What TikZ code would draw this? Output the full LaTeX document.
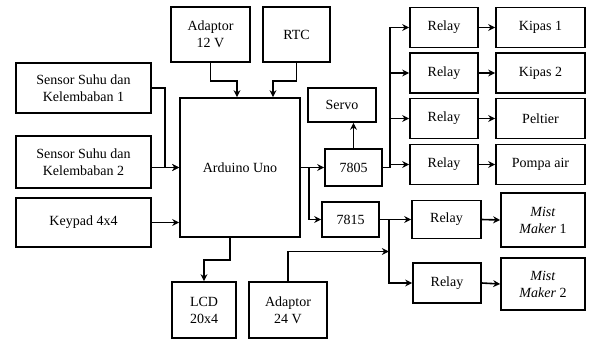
\documentclass[tikz,border=0pt]{standalone}
\usepackage{fontspec}
\setmainfont{Liberation Serif}
\usetikzlibrary{arrows.meta}
\begin{document}
\begin{tikzpicture}[x=1pt, y=-1pt,
    blok/.style={draw, line width=1.7pt, align=center, inner sep=1pt,
        font=\fontsize{14}{17}\selectfont},
    panah/.style={line width=1.6pt, -{Stealth[length=7pt,width=7pt]}},
    garis/.style={line width=1.6pt}]
        \useasboundingbox (0,0) rectangle (589,341);

        \node[blok, minimum width=79, minimum height=55] (ad12) at (210.5,34.5) {Adaptor\\12 V};
        \node[blok, minimum width=67, minimum height=55] (rtc) at (296.5,34.5) {RTC};
        \node[blok, minimum width=135, minimum height=50] (sen1) at (83.5,88) {Sensor Suhu dan\\Kelembaban 1};
        \node[blok, minimum width=135, minimum height=52] (sen2) at (83.5,162) {Sensor Suhu dan\\Kelembaban 2};
        \node[blok, minimum width=135, minimum height=49] (kp) at (83.5,222.5) {Keypad 4x4};
        \node[blok, minimum width=120, minimum height=139] (ard) at (240,167.5) {Arduino Uno};
        \node[blok, minimum width=64, minimum height=56] (lcd) at (204,310) {LCD\\20x4};
        \node[blok, minimum width=78, minimum height=56] (ad24) at (288,310) {Adaptor\\24 V};

        \node[blok, minimum width=68, minimum height=34] (servo) at (342,105) {Servo};
        \node[blok, minimum width=57, minimum height=37] (r7805) at (353.5,167.5) {7805};
        \node[blok, minimum width=57, minimum height=35] (r7815) at (350.5,219.5) {7815};

        \node[blok, minimum width=68, minimum height=40] (rl1) at (444,27.5) {Relay};
        \node[blok, minimum width=68, minimum height=40] (rl2) at (444,73) {Relay};
        \node[blok, minimum width=68, minimum height=40] (rl3) at (444,118.5) {Relay};
        \node[blok, minimum width=68, minimum height=40] (rl4) at (444,164.5) {Relay};
        \node[blok, minimum width=89, minimum height=40] (kipas1) at (540.5,27.5) {Kipas 1};
        \node[blok, minimum width=89, minimum height=40] (kipas2) at (540.5,73) {Kipas 2};
        \node[blok, minimum width=89, minimum height=40] (peltier) at (540.5,118.5) {Peltier};
        \node[blok, minimum width=89, minimum height=40] (pompa) at (540.5,164.5) {Pompa air};

        \node[blok, minimum width=69, minimum height=38] (rlA) at (446.5,219.5) {Relay};
        \node[blok, minimum width=68, minimum height=40] (rlB) at (447,283) {Relay};
        \node[blok, minimum width=84, minimum height=54] (mist1) at (543,220) {\textit{Mist}\\\textit{Maker} 1};
        \node[blok, minimum width=84, minimum height=52] (mist2) at (543,284) {\textit{Mist}\\\textit{Maker} 2};

        \draw[panah] (ad12.south) -- ++(0,18) -| ([xshift=-3pt]ard.north);
        \draw[panah] (rtc.south) -- ++(0,18) -| ([xshift=33pt]ard.north);
        \draw[panah] (sen1.east) -- ++(13,0) |- (ard.west);
        \draw[panah] (sen2.east |- ard.west) -- (ard.west);
        \draw[panah] (kp.east) -- (kp.east -| ard.west);
        \draw[panah] ([xshift=-10pt]ard.south) -- ++(0,22) -| (lcd.north);

        \draw[panah] (ard.east) -- (r7805.west);
        \draw[panah] ([xshift=8pt]ard.east) |- (r7815.west);
        \draw[panah] (r7805.north) -- (r7805.north |- servo.south);

        \draw[garis] (r7805.east) -- ++(7,0) coordinate (jA);
        \draw[panah] (jA) |- (rl1.west);
        \draw[panah] (jA |- rl2.west) -- (rl2.west);
        \draw[panah] (jA |- rl3.west) -- (rl3.west);
        \draw[panah] (jA |- rl4.west) -- (rl4.west);

        \draw[panah] (rl1.east) -- (kipas1.west);
        \draw[panah] (rl2.east) -- (kipas2.west);
        \draw[panah] (rl3.east) -- (peltier.west);
        \draw[panah] (rl4.east) -- (pompa.west);

        \draw[garis] (r7815.east) -- ++(9,0) coordinate (jB);
        \draw[panah] (r7815.east) -- (rlA.west);
        \draw[panah] (jB) |- (rlB.west);
        \draw[panah] (ad24.north) |- ([yshift=-32pt]jB);

        \draw[panah] (rlA.east) -- (mist1.west);
        \draw[panah] (rlB.east) -- (mist2.west);
    \end{tikzpicture}
\end{document}
